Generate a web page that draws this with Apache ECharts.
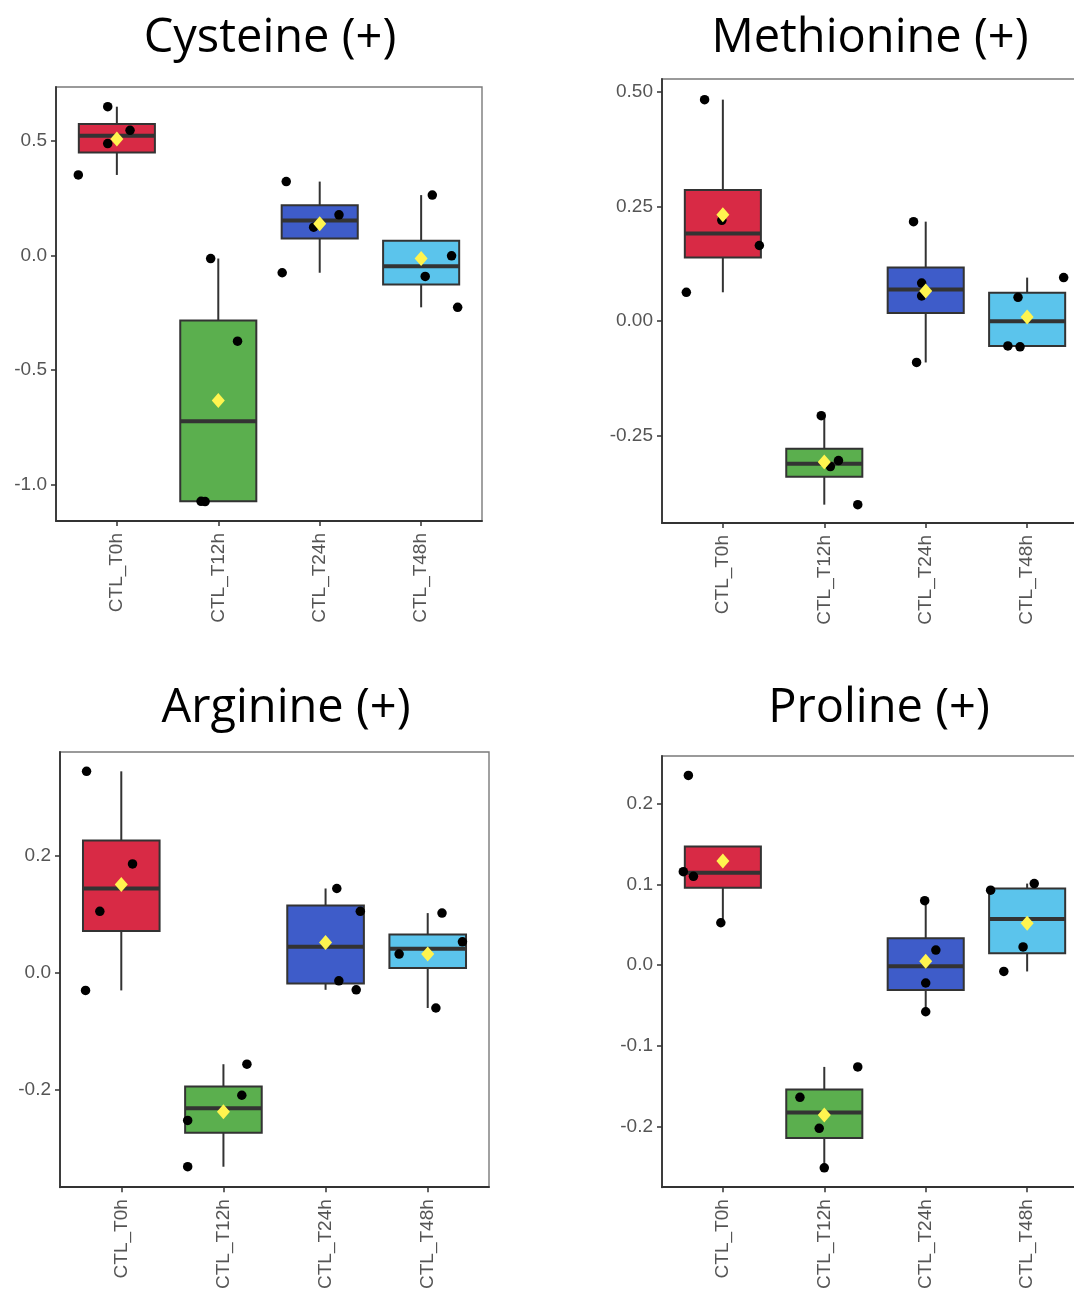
<!DOCTYPE html>
<html>
<head>
<meta charset="utf-8">
<script src="https://cdn.jsdelivr.net/npm/echarts@6/dist/echarts.min.js"></script>
<style>
html,body{margin:0;padding:0;background:#fff;overflow:hidden;}
#chart{width:1110px;height:1292px;}
</style>
</head>
<body>
<div id="chart"></div>
<script>
// ---------- data ----------
const categories = ['CTL_T0h', 'CTL_T12h', 'CTL_T24h', 'CTL_T48h'];
const titles = ['Cysteine (+)', 'Methionine (+)', 'Arginine (+)', 'Proline (+)'];

// box stats per category: [lower whisker, Q1, median, Q3, upper whisker]
const cysteineBox = [[0.351, 0.449, 0.522, 0.573, 0.649], [-1.075, -1.074, -0.724, -0.284, -0.014], [-0.076, 0.073, 0.152, 0.219, 0.322], [-0.227, -0.127, -0.048, 0.064, 0.263]];
const methionineBox = [[0.063, 0.139, 0.191, 0.286, 0.483], [-0.400, -0.339, -0.311, -0.278, -0.206], [-0.090, 0.018, 0.069, 0.117, 0.217], [-0.056, -0.054, 0.000, 0.062, 0.095]];
const arginineBox = [[-0.030, 0.0715, 0.144, 0.226, 0.344], [-0.331, -0.273, -0.231, -0.194, -0.156], [-0.029, -0.018, 0.0447, 0.115, 0.144], [-0.060, 0.0083, 0.041, 0.0656, 0.102]];
const prolineBox = [[0.0525, 0.0959, 0.1145, 0.147, 0.147], [-0.251, -0.214, -0.1826, -0.154, -0.126], [-0.0577, -0.0308, -0.0013, 0.0334, 0.0798], [-0.0078, 0.0148, 0.0573, 0.095, 0.101]];

// group means (yellow diamonds)
const cysteineMean = [0.508, -0.634, 0.138, -0.014];
const methionineMean = [0.232, -0.307, 0.066, 0.009];
const arginineMean = [0.151, -0.237, 0.052, 0.032];
const prolineMean = [0.129, -0.1857, 0.0048, 0.052];

// individual samples per category
const cysteinePts = [[0.649, 0.546, 0.488, 0.351], [-0.014, -0.375, -1.074, -1.075], [0.322, 0.177, 0.123, -0.076], [0.263, -0.002, -0.092, -0.227]];
const methioninePts = [[0.483, 0.220, 0.165, 0.063], [-0.206, -0.317, -0.304, -0.400], [0.217, 0.083, 0.055, -0.090], [0.095, 0.052, -0.054, -0.056]];
const argininePts = [[0.344, 0.186, 0.105, -0.030], [-0.156, -0.209, -0.252, -0.331], [0.144, 0.105, -0.0137, -0.029], [0.102, 0.053, 0.032, -0.060]];
const prolinePts = [[0.235, 0.1158, 0.110, 0.0525], [-0.126, -0.1636, -0.202, -0.251], [0.0798, 0.0187, -0.0221, -0.0577], [0.0928, 0.101, 0.0226, -0.0078]];

// horizontal jitter of each sample (category units)
const cysteineJitter = [[-0.09, 0.13, -0.09, -0.38], [-0.075, 0.19, -0.17, -0.13], [-0.33, 0.19, -0.06, -0.37], [0.11, 0.30, 0.04, 0.36]];
const methionineJitter = [[-0.18, -0.01, 0.36, -0.36], [-0.03, 0.06, 0.14, 0.33], [-0.12, -0.04, -0.04, -0.09], [0.36, -0.09, -0.19, -0.07]];
const arginineJitter = [[-0.34, 0.11, -0.21, -0.35], [0.23, 0.18, -0.35, -0.35], [0.11, 0.34, 0.13, 0.30], [0.14, 0.34, -0.28, 0.08]];
const prolineJitter = [[-0.34, -0.39, -0.29, -0.02], [0.33, -0.24, -0.05, 0.0], [-0.01, 0.10, 0.0, 0.0], [-0.36, 0.07, -0.04, -0.23]];

// y-axis ticks
const cysteineTicks = [-1.0, -0.5, 0.0, 0.5];
const methionineTicks = [-0.25, 0.0, 0.25, 0.5];
const arginineTicks = [-0.2, 0.0, 0.2];
const prolineTicks = [-0.2, -0.1, 0.0, 0.1, 0.2];

// ---------- layout / style ----------
const boxColors = ['#D82A45', '#5BAF4E', '#3E5CC9', '#5BC4EC'];
const gridsPx = [
  {left: 56, top: 87, width: 426, height: 434},
  {left: 662, top: 79, width: 426, height: 444},
  {left: 60, top: 752, width: 429, height: 439},
  {left: 662, top: 756, width: 426, height: 436}
];
const yRanges = [[-1.16, 0.735], [-0.44, 0.528], [-0.366, 0.377], [-0.275, 0.259]];
const yDecimals = [1, 2, 1, 1];
const titlePos = [[270, 39], [870, 39], [286, 709], [879, 709]];

const boxes = [cysteineBox, methionineBox, arginineBox, prolineBox];
const means = [cysteineMean, methionineMean, arginineMean, prolineMean];
const pts = [cysteinePts, methioninePts, argininePts, prolinePts];
const jit = [cysteineJitter, methionineJitter, arginineJitter, prolineJitter];
const ticks = [cysteineTicks, methionineTicks, arginineTicks, prolineTicks];

const labelFont = 'Liberation Sans';
const textGrey = '#555555';
const axisDark = '#333333';

function renderBox(params, api) {
  const x = api.value(0);
  const lo = api.coord([x, api.value(1)]);
  const q1 = api.coord([x, api.value(2)]);
  const md = api.coord([x, api.value(3)]);
  const q3 = api.coord([x, api.value(4)]);
  const hi = api.coord([x, api.value(5)]);
  const halfW = api.size([0.75, 0])[0] / 2;
  const cx = md[0];
  return {
    type: 'group',
    children: [
      {type: 'line', shape: {x1: cx, y1: lo[1], x2: cx, y2: q1[1]}, style: {stroke: axisDark, lineWidth: 2}},
      {type: 'line', shape: {x1: cx, y1: q3[1], x2: cx, y2: hi[1]}, style: {stroke: axisDark, lineWidth: 2}},
      {type: 'rect', shape: {x: cx - halfW, y: q3[1], width: 2 * halfW, height: q1[1] - q3[1]},
        style: {fill: boxColors[params.dataIndex], stroke: axisDark, lineWidth: 2}},
      {type: 'line', shape: {x1: cx - halfW, y1: md[1], x2: cx + halfW, y2: md[1]}, style: {stroke: axisDark, lineWidth: 4}}
    ]
  };
}

const grid = [], xAxis = [], yAxis = [], series = [], graphic = [];
for (let p = 0; p < 4; p++) {
  grid.push(Object.assign({show: true, borderColor: '#7a7a7a', borderWidth: 1.4, backgroundColor: '#fff', containLabel: false}, gridsPx[p]));
  xAxis.push({
    type: 'value', gridIndex: p, min: -0.6, max: 3.6,
    splitLine: {show: false},
    axisLine: {show: true, onZero: false, lineStyle: {color: axisDark, width: 1.8}},
    axisTick: {show: true, length: 5, customValues: [0, 1, 2, 3], lineStyle: {color: axisDark, width: 1.5}},
    axisLabel: {
      customValues: [0, 1, 2, 3], rotate: 90, margin: 12,
      color: textGrey, fontFamily: labelFont, fontSize: 19,
      formatter: v => categories[Math.round(v)]
    }
  });
  const dec = yDecimals[p];
  yAxis.push({
    type: 'value', gridIndex: p, min: yRanges[p][0], max: yRanges[p][1],
    splitLine: {show: false},
    axisLine: {show: true, onZero: false, lineStyle: {color: axisDark, width: 1.8}},
    axisTick: {show: true, length: 5, customValues: ticks[p], lineStyle: {color: axisDark, width: 1.5}},
    axisLabel: {
      customValues: ticks[p], margin: 9,
      color: textGrey, fontFamily: labelFont, fontSize: 19,
      formatter: v => Number(v).toFixed(dec)
    }
  });
  series.push({
    type: 'custom', xAxisIndex: p, yAxisIndex: p,
    renderItem: renderBox,
    encode: {x: 0, y: [1, 2, 3, 4, 5]},
    data: boxes[p].map((b, i) => [i].concat(b)),
    z: 2, silent: true
  });
  const sData = [];
  pts[p].forEach((arr, i) => arr.forEach((v, j) => sData.push([i + jit[p][i][j], v])));
  series.push({
    type: 'scatter', xAxisIndex: p, yAxisIndex: p,
    data: sData, symbol: 'circle', symbolSize: 9.5,
    itemStyle: {color: '#000', opacity: 1},
    z: 3, silent: true
  });
  series.push({
    type: 'scatter', xAxisIndex: p, yAxisIndex: p,
    data: means[p].map((m, i) => [i, m]), symbol: 'diamond', symbolSize: [13, 15],
    itemStyle: {color: '#FFF44F', opacity: 1},
    z: 4, silent: true
  });
  graphic.push({
    type: 'text', x: titlePos[p][0], y: titlePos[p][1],
    style: {text: titles[p], fontFamily: 'Open Sans', fontSize: 47, fill: '#000', align: 'center', verticalAlign: 'middle'}
  });
}

const chart = echarts.init(document.getElementById('chart'), null, {renderer: 'canvas'});
chart.setOption({
  animation: false,
  backgroundColor: '#fff',
  grid, xAxis, yAxis, series, graphic
});
</script>
</body>
</html>
